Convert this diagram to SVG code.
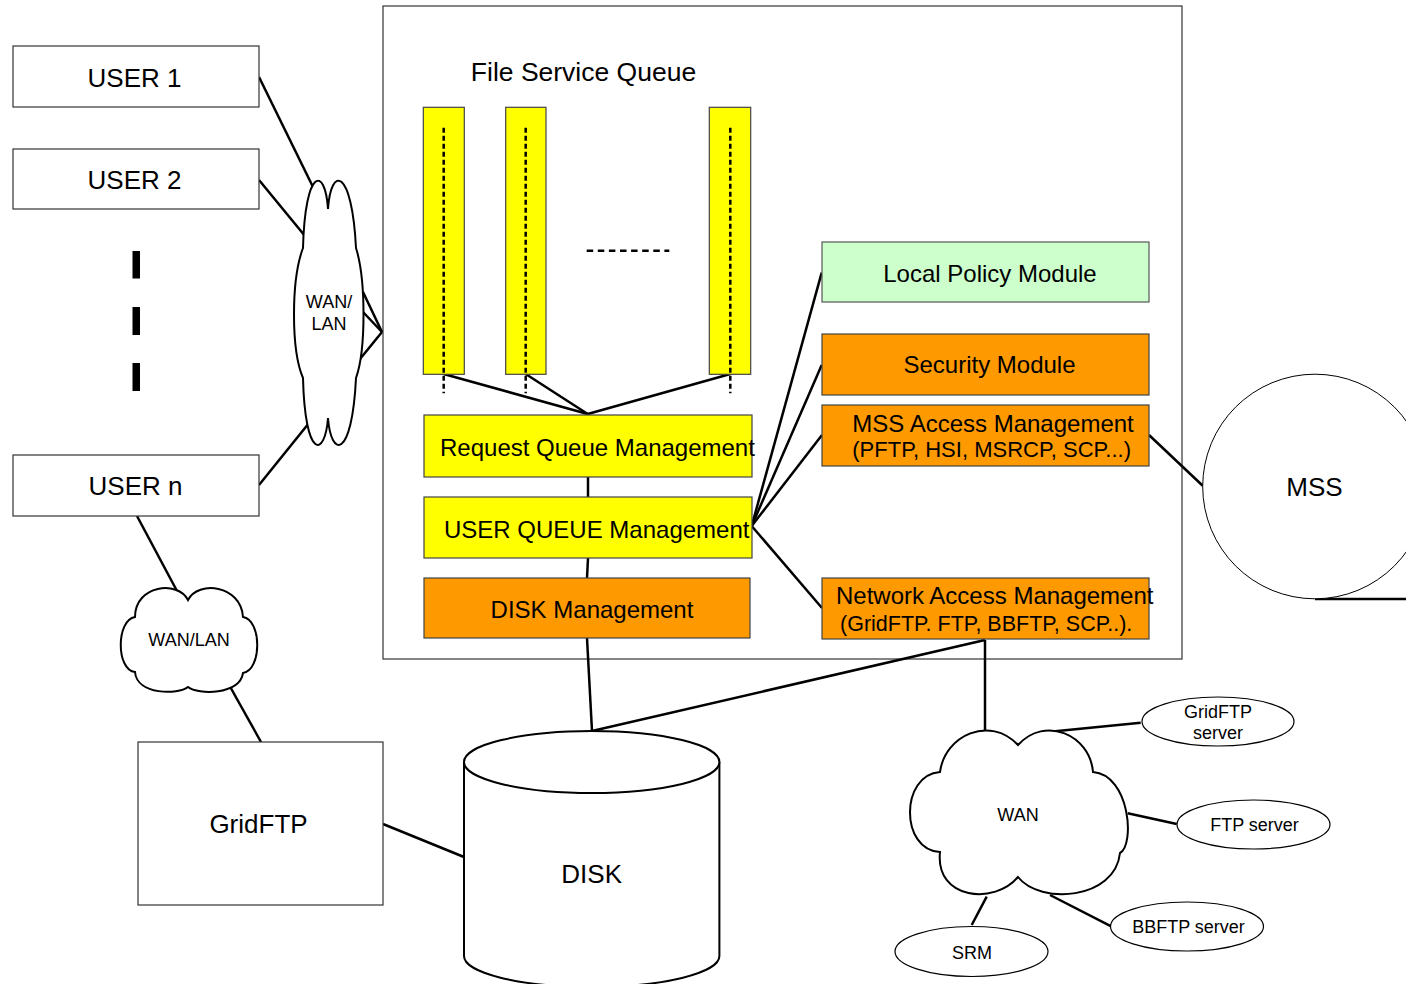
<svg xmlns="http://www.w3.org/2000/svg" width="1406" height="984" viewBox="0 0 1406 984">
<style>
text{font-family:"Liberation Sans",Arial,sans-serif;fill:#000}
.box{fill:#fff;stroke:#333;stroke-width:1.2}
.yel{fill:#ffff00;stroke:#444;stroke-width:1.2}
.org{fill:#ff9900;stroke:#444;stroke-width:1.2}
.grn{fill:#ccffcc;stroke:#555;stroke-width:1.2}
.cloud{fill:#fff;stroke:#000;stroke-width:2}
.ell{fill:#fff;stroke:#000;stroke-width:1.2}
.ln{stroke:#000;stroke-width:2.5;fill:none}
.dot{stroke:#000;stroke-width:2.5;stroke-dasharray:5 3;fill:none}
.t24{font-size:24px}
.t26{font-size:26px}
.t21{font-size:21.5px}
.t18{font-size:18px}
</style>
<rect id="frame" x="383" y="6" width="799" height="653" fill="none" stroke="#333" stroke-width="1.2"/>
<g id="connectors">
<line class="ln" x1="259" y1="77" x2="313" y2="187"/>
<line class="ln" x1="259" y1="180" x2="305" y2="236"/>
<line class="ln" x1="259" y1="485" x2="309" y2="423"/>
<line class="ln" x1="363" y1="292" x2="382" y2="332"/>
<line class="ln" x1="363" y1="312" x2="382" y2="332"/>
<line class="ln" x1="360" y1="359" x2="382" y2="332"/>
<line class="ln" x1="443.7" y1="374" x2="587.7" y2="414"/>
<line class="ln" x1="525.7" y1="374" x2="587.7" y2="414"/>
<line class="ln" x1="730.3" y1="374" x2="587.7" y2="414"/>
<line class="ln" x1="588" y1="477" x2="588" y2="497"/>
<line class="ln" x1="588" y1="558" x2="587" y2="578"/>
<line class="ln" x1="751.7" y1="526" x2="821.7" y2="272.7"/>
<line class="ln" x1="751.7" y1="526" x2="821.7" y2="365"/>
<line class="ln" x1="751.7" y1="526" x2="822" y2="435"/>
<line class="ln" x1="751.7" y1="526" x2="822" y2="608"/>
<line class="ln" x1="1149" y1="435" x2="1203" y2="486"/>
<line class="ln" x1="1315" y1="599" x2="1406" y2="599"/>
<line class="ln" x1="587" y1="638" x2="592" y2="731"/>
<line class="ln" x1="985" y1="640" x2="592" y2="731"/>
<line class="ln" x1="985" y1="640" x2="985" y2="732"/>
<line class="ln" x1="137" y1="516" x2="177" y2="591"/>
<line class="ln" x1="228" y1="683" x2="261" y2="742"/>
<line class="ln" x1="383" y1="824" x2="464" y2="857"/>
<line class="ln" x1="1050" y1="731.7" x2="1140.7" y2="722.7"/>
<line class="ln" x1="1127.7" y1="813.3" x2="1176.7" y2="824"/>
<line class="ln" x1="1050" y1="895" x2="1111.7" y2="926.7"/>
<line class="ln" x1="986.7" y1="896.7" x2="971.7" y2="925"/>
</g>
<g id="user1"><rect class="box" x="13" y="46" width="246" height="61"/><text class="t26" x="134.5" y="86.5" text-anchor="middle">USER 1</text></g>
<g id="user2"><rect class="box" x="13" y="149" width="246" height="60"/><text class="t26" x="134.5" y="189" text-anchor="middle">USER 2</text></g>
<g id="user-ellipsis"><rect x="132.5" y="251" width="7.5" height="27.5" fill="#000"/><rect x="132.5" y="307" width="7.5" height="28" fill="#000"/><rect x="132.5" y="363" width="7.5" height="28" fill="#000"/></g>
<g id="usern"><rect class="box" x="13" y="455" width="246" height="61"/><text class="t26" x="135.5" y="495" text-anchor="middle">USER n</text></g>
<g id="wanlan-top">
<path class="cloud" d="M303 248 C305 168 325 165 328 209 C331 165 352 168 356 248 C366 280 366 350 356 378 C352 460 331 458 328 418 C325 458 305 460 303 378 C291 350 291 280 303 248 Z"/>
<text class="t18" x="329" y="308.3" text-anchor="middle">WAN/</text>
<text class="t18" x="329" y="330" text-anchor="middle">LAN</text>
</g>
<g id="wanlan-bottom">
<path class="cloud" d="M135 617 C135 585 178 580 188 600 C198 580 241 585 243 617 C262 620 262 670 243 673 C240 695 198 695 188 687 C178 695 137 695 135 672 C116 670 116 620 135 617 Z"/>
<text class="t18" x="189" y="645.7" text-anchor="middle">WAN/LAN</text>
</g>
<g id="file-service-queue">
<text x="583.5" y="80.5" text-anchor="middle" font-size="26.5">File Service Queue</text>
<rect class="yel" x="423.3" y="107.3" width="41" height="267"/>
<rect class="yel" x="505.7" y="107.3" width="40.3" height="267"/>
<rect class="yel" x="709.3" y="107.3" width="41.4" height="267"/>
<line class="dot" x1="443.7" y1="127.7" x2="443.7" y2="393.3"/>
<line class="dot" x1="525.7" y1="127.7" x2="525.7" y2="393.3"/>
<line class="dot" x1="730.3" y1="127.7" x2="730.3" y2="393.3"/>
<line stroke="#000" stroke-width="2.5" stroke-dasharray="6.5 4.6" x1="586.7" y1="250.7" x2="669.3" y2="250.7"/>
</g>
<g id="request-queue"><rect class="yel" x="424" y="415" width="328" height="62"/><text class="t24" x="440" y="455.5">Request Queue Management</text></g>
<g id="user-queue"><rect class="yel" x="424" y="497" width="328" height="61"/><text class="t24" x="444" y="537.5">USER QUEUE Management</text></g>
<g id="disk-mgmt"><rect class="org" x="424" y="578" width="326" height="60"/><text class="t24" x="592" y="617.5" text-anchor="middle">DISK Management</text></g>
<g id="local-policy"><rect class="grn" x="822" y="242" width="327" height="60"/><text class="t24" x="990" y="281.7" text-anchor="middle">Local Policy Module</text></g>
<g id="security"><rect class="org" x="822" y="334" width="327" height="61"/><text class="t24" x="989.5" y="373.3" text-anchor="middle">Security Module</text></g>
<g id="mss-access"><rect class="org" x="822" y="405" width="327" height="61"/><text class="t24" x="852.3" y="432.3">MSS Access Management</text><text x="852.3" y="457" font-size="22px">(PFTP, HSI, MSRCP, SCP...)</text></g>
<g id="network-access"><rect class="org" x="822" y="578" width="327" height="61"/><text class="t24" x="836" y="604">Network Access Management</text><text class="t21" x="840" y="631">(GridFTP. FTP, BBFTP, SCP..).</text></g>
<g id="mss"><circle cx="1315" cy="486.5" r="112.3" fill="#fff" stroke="#000" stroke-width="1"/><text class="t26" x="1314.5" y="495.5" text-anchor="middle">MSS</text></g>
<g id="gridftp"><rect class="box" x="138" y="742" width="245" height="163"/><text class="t26" x="258.5" y="832.7" text-anchor="middle">GridFTP</text></g>
<g id="disk">
<path d="M464 762 L464 956 A127.7 31 0 0 0 719.4 956 L719.4 762" fill="#fff" stroke="#000" stroke-width="2"/>
<ellipse cx="591.7" cy="762" rx="127.7" ry="31" fill="#fff" stroke="#000" stroke-width="2"/>
<text class="t26" x="591.7" y="883.3" text-anchor="middle">DISK</text>
</g>
<g id="wan">
<path class="cloud" d="M940 772 C945 735 990 715 1018 745 C1045 715 1090 735 1093 772 C1130 775 1135 845 1120 853 C1115 900 1040 905 1018 877 C995 905 935 900 940 852 C900 850 900 775 940 772 Z"/>
<text class="t18" x="1018" y="820.7" text-anchor="middle">WAN</text>
</g>
<g id="gridftp-server"><ellipse class="ell" cx="1218" cy="721.5" rx="76" ry="24.5"/><text class="t18" x="1218" y="718.3" text-anchor="middle">GridFTP</text><text class="t18" x="1218" y="739.3" text-anchor="middle">server</text></g>
<g id="ftp-server"><ellipse class="ell" cx="1253.5" cy="824.5" rx="76.5" ry="24.5"/><text class="t18" x="1254.5" y="830.5" text-anchor="middle">FTP server</text></g>
<g id="bbftp-server"><ellipse class="ell" cx="1187" cy="926.5" rx="76.5" ry="24.5"/><text class="t18" x="1188.5" y="932.7" text-anchor="middle">BBFTP server</text></g>
<g id="srm"><ellipse class="ell" cx="971.5" cy="951.5" rx="76.5" ry="25"/><text class="t18" x="972" y="959" text-anchor="middle">SRM</text></g>
</svg>
